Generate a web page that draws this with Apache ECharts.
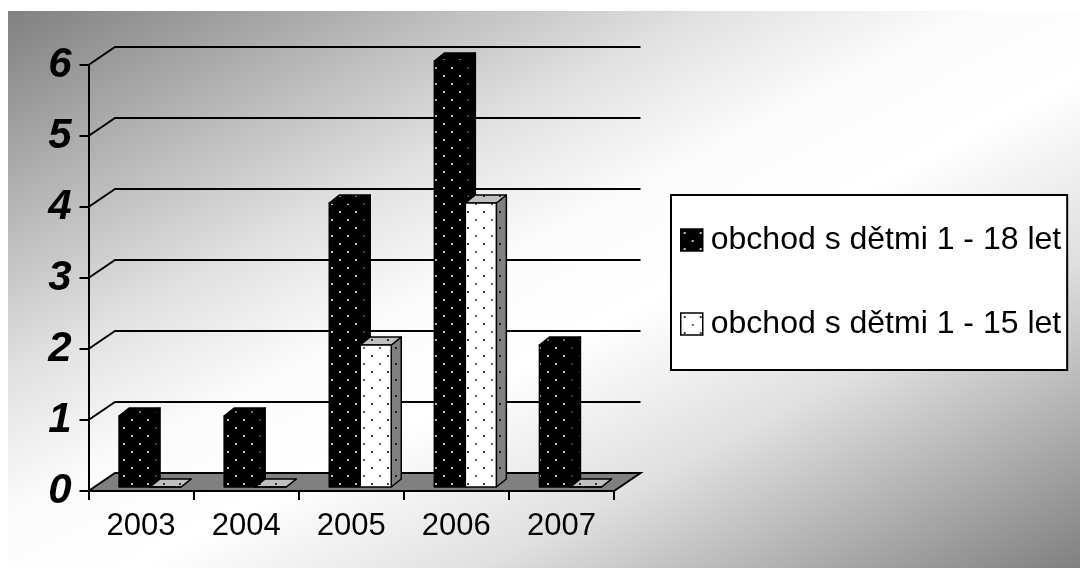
<!DOCTYPE html>
<html><head><meta charset="utf-8">
<script src="https://cdn.jsdelivr.net/npm/echarts@6/dist/echarts.min.js"></script>
<style>html,body{margin:0;padding:0;background:#fff}#c{width:1080px;height:568px}</style>
</head><body><div id="c"></div>
<script>
const categories = ['2003','2004','2005','2006','2007'];
const seriesNames = ['obchod s dětmi 1 - 18 let','obchod s dětmi 1 - 15 let'];
const values18 = [1,1,4,6,2];
const values15 = [0,0,2,4,0];
const yTicks = [0,1,2,3,4,5,6];

function tile(bg, dot, dot2){
  const c=document.createElement('canvas');c.width=16;c.height=16;
  const g=c.getContext('2d');g.fillStyle=bg;g.fillRect(0,0,16,16);
  g.fillStyle=dot;g.beginPath();g.arc(4,4,1,0,7);g.fill();
  g.fillStyle=dot2||dot;g.beginPath();g.arc(12,12,1,0,7);g.fill();
  return {image:c,repeat:'repeat'};
}
const P = {
  darkFront: tile('#000','#fff'),
  darkTop: tile('#000','#999'),
  darkSide: tile('#000','#555'),
  lightFront: tile('#fff','#000','#333'),
  lightTop: tile('#c0c0c0','#000'),
  lightSide: tile('#808080','#000')
};
const DX=26.5, DY=18;         // wall depth
const BDX=10, BDY=8;          // bar depth
const BOFF=9, BLIFT=4, BW=31; // bar position on floor

function barRender(front, top, side, leftOf){
  return function(params, api){
    const i=api.value(0), v=api.value(1);
    const c=api.coord([i,0]), t=api.coord([i,v]);
    const x0=c[0]+BOFF+(leftOf?-BW:0), x1=x0+BW;
    const yb=c[1]-BLIFT, yt=t[1]-BLIFT;
    const ln={stroke:'#000',lineWidth:1.5,lineJoin:'round'};
    return {type:'group',children:[
      {type:'polygon',shape:{points:[[x1,yb],[x1+BDX,yb-BDY],[x1+BDX,yt-BDY],[x1,yt]]},style:Object.assign({fill:side},ln)},
      {type:'polygon',shape:{points:[[x0,yt],[x0+BDX,yt-BDY],[x1+BDX,yt-BDY],[x1,yt]]},style:Object.assign({fill:top},ln)},
      {type:'rect',shape:{x:x0,y:yt,width:BW,height:yb-yt},style:Object.assign({fill:front},ln)}
    ]};
  };
}
const frame = {
  type:'custom',silent:true,z:1,data:yTicks.filter(v=>v>0).map(v=>[0,v]),
  renderItem(params,api){
    const s=params.coordSys, y=api.coord([0,api.value(1)])[1], x=s.x;
    return {type:'polyline',shape:{points:[[x,y],[x+DX,y-DY],[x+s.width+DX,y-DY]]},style:{stroke:'#000',lineWidth:2,fill:null}};
  }
};
const floor = {
  type:'custom',silent:true,z:1,data:[[0,0]],
  renderItem(params,api){
    const s=params.coordSys, y=api.coord([0,0])[1], x=s.x, w=s.width;
    return {type:'polygon',shape:{points:[[x,y],[x+DX,y-DY],[x+w+DX,y-DY],[x+w,y]]},style:{fill:'#808080',stroke:'#000',lineWidth:2}};
  }
};
const chart=echarts.init(document.getElementById('c'),null,{renderer:'canvas'});
chart.setOption({
  animation:false,
  backgroundColor:'#fff',
  graphic:[{type:'rect',z:-10,silent:true,shape:{x:8,y:11,width:1072,height:557},
    style:{fill:new echarts.graphic.LinearGradient(8,11,464,888,[
      {offset:0,color:'#808080'},{offset:0.2,color:'#bcbcbc'},{offset:0.33,color:'#e2e2e2'},
      {offset:0.45,color:'#fbfbfb'},{offset:0.56,color:'#ffffff'},{offset:0.72,color:'#e0e0e0'},
      {offset:0.86,color:'#b0b0b0'},{offset:1,color:'#808080'}],true)}}],
  grid:{left:88.5,top:65,width:525.5,height:426,containLabel:false},
  xAxis:{type:'category',data:categories,
    axisLine:{show:true,lineStyle:{color:'#000',width:2}},
    axisTick:{show:true,alignWithLabel:false,length:9,lineStyle:{color:'#000',width:2}},
    axisLabel:{color:'#000',fontFamily:'Liberation Sans',fontSize:31,margin:20}},
  yAxis:{type:'value',min:0,max:6,interval:1,
    axisLine:{show:true,lineStyle:{color:'#000',width:2}},
    axisTick:{show:true,length:9,lineStyle:{color:'#000',width:2}},
    splitLine:{show:false},
    axisLabel:{color:'#000',fontFamily:'Liberation Sans',fontSize:42,fontWeight:'bold',fontStyle:'italic',margin:17,padding:[6,0,0,0]}},
  legend:{orient:'vertical',left:671,top:195,
    backgroundColor:'#fff',borderColor:'#000',borderWidth:2,borderRadius:0,
    padding:[29,6,30,9],itemGap:52,itemWidth:22,itemHeight:22,icon:'rect',selectedMode:false,
    textStyle:{color:'#000',fontFamily:'Liberation Sans',fontSize:32,padding:[0,0,0,3]},
    data:[
      {name:seriesNames[0],itemStyle:{color:P.darkFront,borderColor:'#000',borderWidth:1.5}},
      {name:seriesNames[1],itemStyle:{color:P.lightFront,borderColor:'#000',borderWidth:1.5}}
    ]},
  series:[floor,frame,
    {type:'custom',name:seriesNames[0],z:3,silent:true,data:values18.map((v,i)=>[i,v]),
     itemStyle:{color:P.darkFront},renderItem:barRender(P.darkFront,P.darkTop,P.darkSide,true)},
    {type:'custom',name:seriesNames[1],z:4,silent:true,data:values15.map((v,i)=>[i,v]),
     itemStyle:{color:P.lightFront},renderItem:barRender(P.lightFront,P.lightTop,P.lightSide,false)}
  ]
});
</script></body></html>
